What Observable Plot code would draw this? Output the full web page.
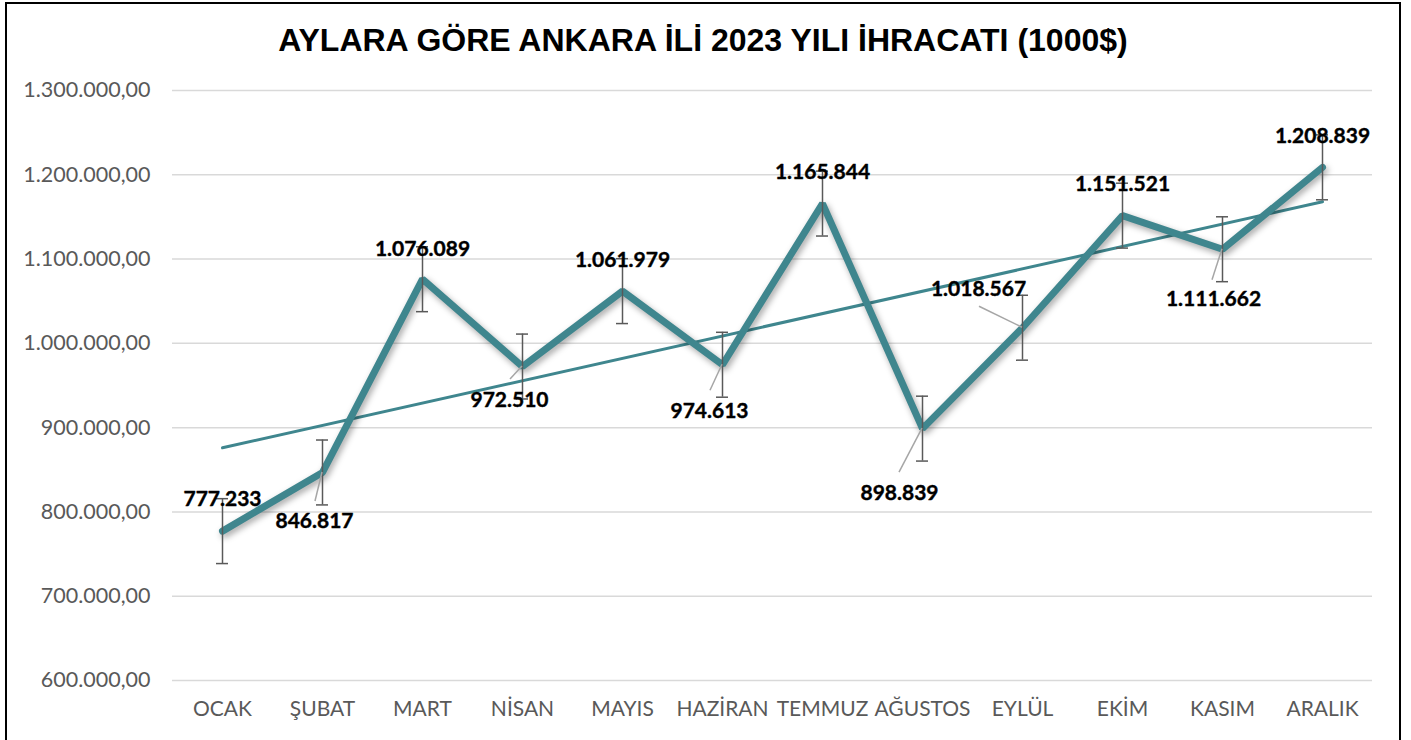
<!DOCTYPE html>
<html>
<head>
<meta charset="utf-8">
<script src="https://cdn.jsdelivr.net/npm/d3@7"></script>
<script src="https://cdn.jsdelivr.net/npm/@observablehq/plot@0.6"></script>
<style>
  html, body { margin: 0; padding: 0; background: #fff; width: 1411px; height: 740px; overflow: hidden; }
  #frame { position: absolute; left: 5px; top: 2px; width: 1396px; height: 800px; border: 2px solid #000; box-sizing: border-box; }
  #title { position: absolute; left: 0; top: 22px; width: 1406px; text-align: center; font-family: "Liberation Sans", Arial, sans-serif; font-weight: bold; font-size: 32px; line-height: 37px; color: #000; }
  #chart { position: absolute; left: 0; top: 0; }
</style>
</head>
<body>
<div id="frame"></div>
<div id="title">AYLARA GÖRE ANKARA İLİ 2023 YILI İHRACATI (1000$)</div>
<div id="chart"></div>
<script>
// Data
const months = ["OCAK", "ŞUBAT", "MART", "NİSAN", "MAYIS", "HAZİRAN", "TEMMUZ", "AĞUSTOS", "EYLÜL", "EKİM", "KASIM", "ARALIK"];
const exports2023 = [777233, 846817, 1076089, 972510, 1061979, 974613, 1165844, 898839, 1018567, 1151521, 1111662, 1208839];
const errorAmount = 38500;
const yTicks = [600000, 700000, 800000, 900000, 1000000, 1100000, 1200000, 1300000];

// Label placement (pixel offsets from the point) and leader lines (pixel offsets)
const labelOffsets = [[0, -32], [-8, 49], [0, -30], [-13, 34], [0, -31], [-13, 47], [0, -31], [-23, 65], [-44, -38], [0, -31], [-9, 50], [0, -31]];
const leaderEnds = [null, [-7, 29], null, [-12, 13], null, [-12, 26], null, [-23, 44], [-43, -21], null, [-10, 31], null];

const data = months.map((m, i) => ({i: i + 1, month: m, value: exports2023[i], lo: labelOffsets[i], le: leaderEnds[i]}));

const fmtThousands = v => d3.format(",")(v).replace(/,/g, ".");
const fmtTick = v => d3.format(",.2f")(v).replace(/,/g, "#").replace(".", ",").replace(/#/g, ".");

const teal = "#3F868E";
const labelFont = "Lato, sans-serif";

const leaders = (index, scales) => {
  const g = document.createElementNS("http://www.w3.org/2000/svg", "g");
  for (const d of data) {
    if (!d.le) continue;
    const x = scales.x(d.i), y = scales.y(d.value);
    const p = document.createElementNS("http://www.w3.org/2000/svg", "line");
    p.setAttribute("x1", x); p.setAttribute("y1", y);
    p.setAttribute("x2", x + d.le[0]); p.setAttribute("y2", y + d.le[1]);
    p.setAttribute("stroke", "#a6a6a6"); p.setAttribute("stroke-width", "1.5");
    g.appendChild(p);
  }
  return g;
};

const labelMarks = data.map(d => Plot.text([d], {
  x: "i", y: "value", text: d => fmtThousands(d.value),
  dx: d.lo[0], dy: d.lo[1],
  fontFamily: labelFont, fontWeight: "bold", fontSize: 21, fill: "#000",
  stroke: "#000", strokeWidth: 0.4, textAnchor: "middle"
}));

const chart = Plot.plot({
  width: 1411,
  height: 740,
  marginLeft: 172,
  marginRight: 39,
  marginTop: 90,
  marginBottom: 60,
  style: {background: "transparent", overflow: "visible"},
  x: {domain: [0.5, 12.5], axis: null},
  y: {domain: [600000, 1300000], axis: null},
  marks: [
    Plot.ruleY(yTicks, {stroke: "#d9d9d9", strokeWidth: 1.5}),
    Plot.axisY(yTicks, {tickSize: 0, tickPadding: 22, tickFormat: fmtTick, fontSize: 21.5, fontFamily: labelFont, fill: "#595959", label: null}),
    Plot.axisX(d3.range(1, 13), {tickSize: 0, tickPadding: 21, tickFormat: d => months[d - 1], fontSize: 21, fontFamily: labelFont, fill: "#595959", label: null}),
    Plot.linearRegressionY(data, {x: "i", y: "value", stroke: teal, strokeWidth: 3, ci: 0}),
    Plot.line(data, {x: "i", y: "value", stroke: teal, strokeWidth: 7, strokeLinejoin: "miter", strokeLinecap: "round"}),
    Plot.ruleX(data, {x: "i", y1: d => d.value - errorAmount, y2: d => d.value + errorAmount, stroke: "#595959", strokeWidth: 1.5}),
    Plot.ruleY(data, {y: d => d.value - errorAmount, x1: d => d.i - 0.06, x2: d => d.i + 0.06, stroke: "#595959", strokeWidth: 1.5}),
    Plot.ruleY(data, {y: d => d.value + errorAmount, x1: d => d.i - 0.06, x2: d => d.i + 0.06, stroke: "#595959", strokeWidth: 1.5}),
    leaders,
    ...labelMarks
  ]
});
const lineG = chart.querySelector('g[aria-label="line"]');
if (lineG) lineG.style.filter = "drop-shadow(2px 3px 3px rgba(0,0,0,0.35))";
document.getElementById("chart").appendChild(chart);
</script>
</body>
</html>
